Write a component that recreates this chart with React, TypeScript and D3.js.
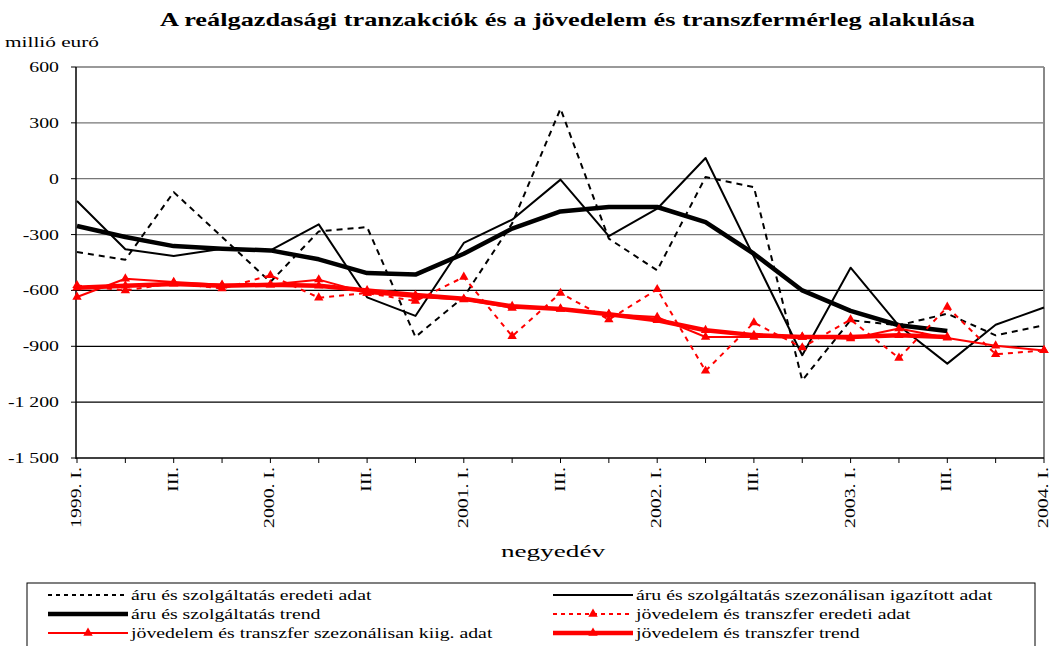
import React from "react";
import * as d3 from "d3";

const quarters = [
  "1999. I.", "1999. II.", "1999. III.", "1999. IV.",
  "2000. I.", "2000. II.", "2000. III.", "2000. IV.",
  "2001. I.", "2001. II.", "2001. III.", "2001. IV.",
  "2002. I.", "2002. II.", "2002. III.", "2002. IV.",
  "2003. I.", "2003. II.", "2003. III.", "2003. IV.",
  "2004. I.",
];
const quarterLabels = [
  "1999. I.", "", "III.", "", "2000. I.", "", "III.", "", "2001. I.", "", "III.", "",
  "2002. I.", "", "III.", "", "2003. I.", "", "III.", "", "2004. I.",
];
const yTicks = [600, 300, 0, -300, -600, -900, -1200, -1500];
const yTickLabels = ["600", "300", "0", "-300", "-600", "-900", "-1 200", "-1 500"];

const aruEredeti = [-394, -435, -72, -313, -555, -283, -260, -850, -635, -240, 376, -322, -492, 9, -45, -1083, -760, -787, -725, -841, -787];
const aruSzezon = [-120, -379, -415, -376, -385, -245, -637, -737, -345, -220, -5, -308, -161, 111, -420, -948, -478, -790, -993, -784, -692];
const aruTrend = [-254, -313, -362, -376, -385, -433, -507, -515, -403, -268, -176, -152, -152, -233, -403, -600, -710, -787, -818];
const jovEredeti = [-573, -600, -560, -590, -519, -639, -614, -657, -528, -846, -614, -757, -594, -1032, -773, -907, -757, -963, -689, -943, -922];
const jovSzezon = [-635, -537, -555, -570, -568, -542, -614, -635, -649, -694, -698, -728, -743, -850, -850, -850, -859, -805, -855, -897, -922];
const jovTrend = [-585, -575, -565, -575, -570, -575, -600, -625, -645, -685, -700, -728, -760, -814, -840, -850, -850, -841, -850];

const title = "A reálgazdasági tranzakciók és a jövedelem és transzfermérleg alakulása";
const yUnit = "millió euró";
const xTitle = "negyedév";

const seriesNames = [
  "áru és szolgáltatás eredeti adat",
  "áru és szolgáltatás szezonálisan igazított adat",
  "áru és szolgáltatás trend",
  "jövedelem és transzfer eredeti adat",
  "jövedelem és transzfer szezonálisan kiig. adat",
  "jövedelem és transzfer trend",
];

const FONT = "Liberation Serif";
const SX = 1.32;

type Series = {
  name: string;
  values: number[];
  color: string;
  width: number;
  dash?: string;
  marker: boolean;
};

const series: Series[] = [
  { name: seriesNames[0], values: aruEredeti, color: "#000", width: 2, dash: "6,5", marker: false },
  { name: seriesNames[1], values: aruSzezon, color: "#000", width: 2, marker: false },
  { name: seriesNames[2], values: aruTrend, color: "#000", width: 4.5, marker: false },
  { name: seriesNames[3], values: jovEredeti, color: "#ff0000", width: 2, dash: "5,5", marker: true },
  { name: seriesNames[4], values: jovSzezon, color: "#ff0000", width: 2, marker: true },
  { name: seriesNames[5], values: jovTrend, color: "#ff0000", width: 4.5, marker: true },
];

const left = 76;
const right = 1044;
const top = 67;
const bottom = 458;

function T(props: { x: number; y: number; size: number; anchor?: string; rotate?: number; sx?: number; children: React.ReactNode; weight?: string }) {
  const { x, y, size, anchor, rotate, sx, children, weight } = props;
  return (
    <text
      transform={`translate(${x},${y})${rotate ? ` rotate(${rotate})` : ""} scale(${sx ?? SX},1)`}
      fontSize={size}
      fontFamily={FONT}
      fontWeight={weight}
      textAnchor={anchor}
      fill="#000"
    >
      {children}
    </text>
  );
}

export default function App() {
  const x = d3.scalePoint<number>().domain(d3.range(quarters.length)).range([left + 1, right]);
  const y = d3.scaleLinear().domain([-1500, 600]).range([bottom, top]);
  const line = d3
    .line<number>()
    .x((_, i) => x(i) as number)
    .y((d) => y(d));
  const tri = d3.symbol(d3.symbolTriangle, 38)() as string;

  const legendRows = [
    { s: series[0], lx: 48, ly: 600 },
    { s: series[1], lx: 553, ly: 600 },
    { s: series[2], lx: 48, ly: 619 },
    { s: series[3], lx: 553, ly: 619 },
    { s: series[4], lx: 48, ly: 638 },
    { s: series[5], lx: 553, ly: 638 },
  ];

  return (
    <svg width={1050} height={646} style={{ position: "absolute", left: 0, top: 0, background: "#fff" }}>
      <rect x={0} y={0} width={1050} height={646} fill="#fff" />
      <text x={160} y={26} fontSize={19} fontFamily={FONT} fontWeight="bold" textLength={815} lengthAdjust="spacingAndGlyphs">
        {title}
      </text>
      <T x={5} y={47} size={15} sx={1.42}>{yUnit}</T>

      {yTicks.map((t, i) => (
        <g key={t}>
          {t !== -1500 && (
            <line x1={left} x2={right} y1={y(t)} y2={y(t)} stroke={t >= -300 ? "#777" : "#000"} strokeWidth={1.3} />
          )}
          <line x1={left - 5} x2={left} y1={y(t)} y2={y(t)} stroke="#000" />
          <T x={59} y={y(t) + 5} size={15} anchor="end">{yTickLabels[i]}</T>
        </g>
      ))}
      <line x1={right} x2={right} y1={top} y2={bottom} stroke="#888" strokeWidth={2} />
      <line x1={left} x2={left} y1={top} y2={bottom + 1} stroke="#000" strokeWidth={1.5} />
      <line x1={left} x2={right} y1={bottom} y2={bottom} stroke="#000" strokeWidth={1.5} />
      {quarters.map((q, i) => (
        <g key={q}>
          <line x1={x(i)} x2={x(i)} y1={bottom} y2={bottom + 5} stroke="#000" />
          {quarterLabels[i] && (
            <T x={(x(i) as number) + 4} y={bottom + 9} size={15} anchor="end" rotate={-90}>
              {quarterLabels[i]}
            </T>
          )}
        </g>
      ))}
      <T x={553} y={557} size={17} sx={1.6} anchor="middle">{xTitle}</T>

      {series.map((s) => (
        <g key={s.name}>
          <path d={line(s.values) as string} fill="none" stroke={s.color} strokeWidth={s.width} strokeDasharray={s.dash} strokeLinejoin="round" />
          {s.marker &&
            s.values.map((v, i) => (
              <path key={i} d={tri} transform={`translate(${x(i)},${y(v)})`} fill={s.color} />
            ))}
        </g>
      ))}

      <rect x={27} y={583} width={1008} height={70} fill="#fff" stroke="#000" strokeWidth={1} />
      {legendRows.map(({ s, lx, ly }) => (
        <g key={s.name}>
          <line x1={lx} x2={lx + 80} y1={ly - 5} y2={ly - 5} stroke={s.color} strokeWidth={s.width} strokeDasharray={s.dash ? "4,4" : undefined} />
          {s.marker && <path d={tri} transform={`translate(${lx + 40},${ly - 5})`} fill={s.color} />}
          <T x={lx + 83} y={ly} size={15}>{s.name}</T>
        </g>
      ))}
    </svg>
  );
}
